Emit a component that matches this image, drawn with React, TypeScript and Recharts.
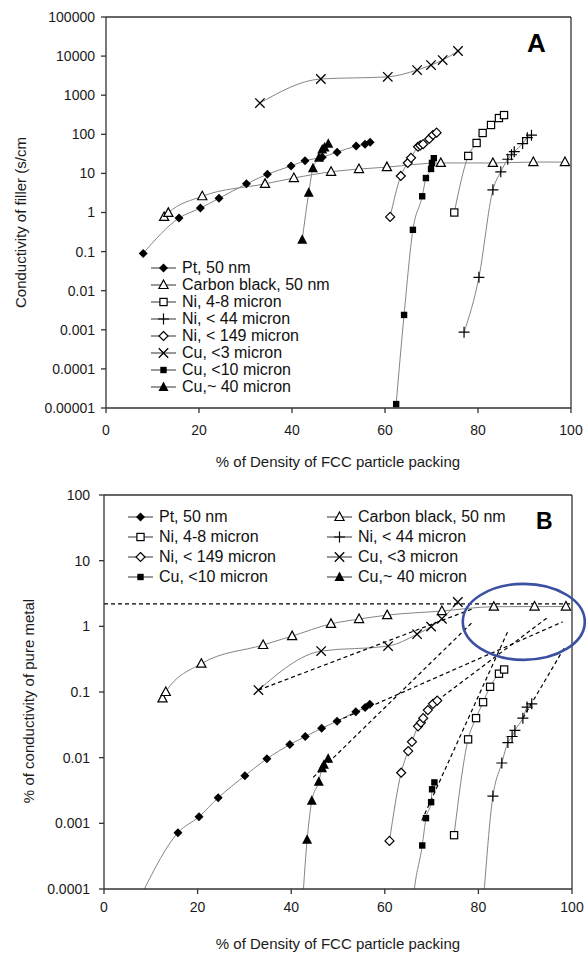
import React from "react";
import {
  ComposedChart,
  Line,
  XAxis,
  YAxis,
  ReferenceLine,
  ReferenceDot,
} from "recharts";

const FONT = "Arial, 'Liberation Sans', Helvetica, sans-serif";

// ---- data: [packing %, value] pairs ----
const X_TICKS = [0, 20, 40, 60, 80, 100];
const A_Y_TICKS = [0.00001, 0.0001, 0.001, 0.01, 0.1, 1, 10, 100, 1000, 10000, 100000];
const B_Y_TICKS = [0.0001, 0.001, 0.01, 0.1, 1, 10, 100];

const SERIES_NAMES = [
  "Pt, 50 nm",
  "Carbon black, 50 nm",
  "Ni, 4-8 micron",
  "Ni, < 44 micron",
  "Ni, < 149 micron",
  "Cu, <3 micron",
  "Cu, <10 micron",
  "Cu,~ 40 micron",
];
const SERIES_MARKERS = [
  "diamondFilled",
  "triangleOpen",
  "squareOpen",
  "plus",
  "diamondOpen",
  "cross",
  "squareFilled",
  "triangleFilled",
];

// panel A: conductivity of filler (S/cm)
const ptA = [[8, 0.09], [15.7, 0.72], [20.3, 1.3], [24.3, 2.3], [30.2, 5.4], [34.7, 9.5], [39.8, 15.5], [42.8, 21], [46.5, 26], [49.7, 35], [53.8, 50], [55.7, 56], [56.8, 63]];
const carbonA = [[12.5, 0.77], [13.4, 0.98], [20.7, 2.6], [34.2, 5.4], [40.4, 7.6], [48.4, 11], [54.4, 12.9], [60.4, 14.5], [72, 18.5], [83.2, 18.5], [91.9, 19.5], [98.7, 19.5]];
const ni48A = [[74.9, 1.0], [77.9, 28], [79.7, 60], [81, 108], [82.8, 173], [84.5, 260], [85.6, 310]];
const ni44A = [[77, 0.00087], [80.2, 0.022], [83.2, 3.8], [84.9, 11], [86.4, 23], [87.2, 30], [87.8, 36], [89.6, 58], [90.6, 82], [91.5, 95]];
const ni149A = [[61.1, 0.77], [63.4, 8.6], [64.9, 18.5], [65.6, 25], [67.1, 48], [67.6, 52], [68.2, 56], [69.5, 76], [70.3, 96], [71.1, 110]];
const cu3A = [[33.1, 630], [46.2, 2600], [60.6, 2950], [66.9, 4400], [69.9, 5900], [72.4, 7900], [75.7, 13500]];
const cu10A = [[62.4, 0.0000126], [64.1, 0.0024], [66, 0.36], [68, 2.6], [68.8, 7.6], [69.9, 13], [70.1, 18.5], [70.5, 24.5]];
const cu40A = [[42.2, 0.2], [43.6, 3.2], [44.5, 13.5], [45.8, 25], [46.5, 41], [47, 46], [47.8, 57]];

// panel B: % of conductivity of pure metal
const ptB = [[8.3, 0.00009], [15.8, 0.00072], [20.3, 0.00126], [24.4, 0.00245], [30.1, 0.0053], [34.8, 0.0096], [39.7, 0.0158], [43, 0.021], [46.5, 0.028], [49.8, 0.036], [53.8, 0.05], [55.8, 0.058], [56.8, 0.065]];
const carbonB = [[12.5, 0.08], [13.2, 0.1], [20.8, 0.27], [34, 0.52], [40.2, 0.71], [48.5, 1.09], [54.5, 1.29], [60.5, 1.48], [72.2, 1.71], [83.3, 1.99], [92, 2.0], [98.7, 2.0]];
const ni48B = [[74.8, 0.00066], [77.8, 0.019], [79.5, 0.04], [81, 0.07], [82.5, 0.12], [84.4, 0.19], [85.5, 0.22]];
const ni44B = [[77, 0.0000006], [80.2, 0.000015], [83.1, 0.0026], [85, 0.0083], [86.3, 0.017], [87.2, 0.021], [87.8, 0.026], [89.5, 0.04], [90.4, 0.059], [91.4, 0.066]];
const ni149B = [[61, 0.00054], [63.5, 0.0059], [65, 0.0126], [65.8, 0.0174], [67.1, 0.03], [67.7, 0.034], [68.2, 0.04], [69.2, 0.053], [70.3, 0.066], [71.2, 0.074]];
const cu3B = [[33, 0.107], [46.4, 0.42], [60.7, 0.5], [66.9, 0.76], [69.9, 0.99], [72.2, 1.3], [75.6, 2.35]];
const cu10B = [[62.4, 0.000000002], [64.1, 0.0000004], [66, 0.00006], [68, 0.00046], [68.8, 0.0012], [69.9, 0.0021], [70.1, 0.0033], [70.6, 0.0042]];
const cu40B = [[42.2, 0.000034], [43.4, 0.00056], [44.4, 0.0022], [45.9, 0.0043], [46.6, 0.0069], [47, 0.0078], [47.9, 0.0096]];

// panel B: dashed extrapolation lines
const dashCu3 = [[33, 0.107], [78.6, 1.83]];
const dashPt = [[49.8, 0.036], [98, 1.17]];
const dashCu40 = [[44.7, 0.005], [78.8, 1.17]];
const dashCu10 = [[67.9, 0.0011], [86.3, 0.84]];
const dashNi149 = [[71.2, 0.074], [94.7, 1.35]];
const dashNi44 = [[89.5, 0.04], [98.5, 0.49]];
const DASH_LINES = [dashCu3, dashPt, dashCu40, dashCu10, dashNi149, dashNi44];
const PURE_METAL_LEVEL = 2.2;
const CIRCLE_CENTER = [89.7, 1.17];

const SERIES_A = [ptA, carbonA, ni48A, ni44A, ni149A, cu3A, cu10A, cu40A];
const SERIES_B = [ptB, carbonB, ni48B, ni44B, ni149B, cu3B, cu10B, cu40B];

const toPts = (arr: number[][]) => arr.map(([x, y]) => ({ x, y }));

function Marker({ kind, cx, cy }: { kind: string; cx: number; cy: number }) {
  const sw = 1.2;
  switch (kind) {
    case "diamondFilled":
      return <polygon points={`${cx},${cy - 4.5} ${cx + 4.5},${cy} ${cx},${cy + 4.5} ${cx - 4.5},${cy}`} fill="#000" />;
    case "diamondOpen":
      return <polygon points={`${cx},${cy - 4.5} ${cx + 4.5},${cy} ${cx},${cy + 4.5} ${cx - 4.5},${cy}`} fill="#fff" stroke="#000" strokeWidth={sw} />;
    case "triangleOpen":
      return <polygon points={`${cx},${cy - 5} ${cx + 4.6},${cy + 3.5} ${cx - 4.6},${cy + 3.5}`} fill="#fff" stroke="#000" strokeWidth={sw} />;
    case "triangleFilled":
      return <polygon points={`${cx},${cy - 5.5} ${cx + 5},${cy + 4} ${cx - 5},${cy + 4}`} fill="#000" />;
    case "squareOpen":
      return <rect x={cx - 3.6} y={cy - 3.6} width={7.2} height={7.2} fill="#fff" stroke="#000" strokeWidth={sw} />;
    case "squareFilled":
      return <rect x={cx - 3.2} y={cy - 3.2} width={6.4} height={6.4} fill="#000" />;
    case "plus":
      return <path d={`M${cx - 5.5},${cy}H${cx + 5.5}M${cx},${cy - 5.5}V${cy + 5.5}`} stroke="#000" strokeWidth={sw} />;
    case "cross":
      return <path d={`M${cx - 4.7},${cy - 4.7}L${cx + 4.7},${cy + 4.7}M${cx - 4.7},${cy + 4.7}L${cx + 4.7},${cy - 4.7}`} stroke="#000" strokeWidth={1.3} />;
    default:
      return null;
  }
}

const makeDot = (kind: string, minY: number) => (p: any) => {
  const { cx, cy, index, payload } = p;
  if (cx == null || cy == null || !payload || payload.y < minY) return <g key={`d${index}`} />;
  return (
    <g key={`d${index}`}>
      <Marker kind={kind} cx={cx} cy={cy} />
    </g>
  );
};

const tickStyle = { fontSize: 14, fill: "#1a1a1a", fontFamily: FONT };
const fmt = (v: number) => String(v);

function LegendRow({ name, kind }: { name: string; kind: string }) {
  return (
    <div style={{ display: "flex", alignItems: "center", height: "100%" }}>
      <svg width={26} height={14} style={{ flex: "none" }}>
        <line x1={0} x2={25} y1={7} y2={7} stroke="#333" strokeWidth={1} />
        <Marker kind={kind} cx={12.5} cy={7} />
      </svg>
      <span style={{ marginLeft: 5, whiteSpace: "nowrap" }}>{name}</span>
    </div>
  );
}

function ChartA() {
  return (
    <div style={{ position: "absolute", left: 0, top: 0, width: 586, height: 475 }}>
      <ComposedChart width={586} height={475} margin={{ top: 17, right: 15, bottom: 0, left: 0 }}>
        <XAxis
          type="number"
          dataKey="x"
          domain={[0, 100]}
          ticks={X_TICKS}
          interval={0}
          height={67}
          tickSize={5}
          tickMargin={12}
          stroke="#333"
          strokeWidth={1.3}
          tick={tickStyle}
          label={{
            content: () => (
              <text x={338} y={467} textAnchor="middle" fontSize={15} fontFamily={FONT} fill="#1a1a1a">
                % of Density of FCC particle packing
              </text>
            ),
          }}
        />
        <YAxis
          type="number"
          dataKey="y"
          scale="log"
          domain={[0.00001, 100000]}
          allowDataOverflow
          ticks={A_Y_TICKS}
          interval={0}
          width={106}
          tickSize={5}
          tickMargin={6}
          tickFormatter={fmt}
          stroke="#333"
          strokeWidth={1.3}
          tick={tickStyle}
          label={{
            content: () => (
              <text
                x={20}
                y={308}
                transform="rotate(-90 20 308)"
                textAnchor="start"
                dominantBaseline="central"
                fontSize={15}
                fontFamily={FONT}
                fill="#1a1a1a"
              >
                Conductivity of filler (s/cm
              </text>
            ),
          }}
        />
        <ReferenceLine y={100000} stroke="#333" strokeWidth={1.3} />
        <ReferenceLine x={100} stroke="#333" strokeWidth={1.3} />
        {SERIES_A.map((s, i) => (
          <Line
            key={SERIES_NAMES[i]}
            data={toPts(s)}
            dataKey="y"
            name={SERIES_NAMES[i]}
            type="monotone"
            stroke="#858585"
            strokeWidth={1}
            dot={makeDot(SERIES_MARKERS[i], 0.00001)}
            activeDot={false}
            isAnimationActive={false}
          />
        ))}
      </ComposedChart>
      <div style={{ position: "absolute", left: 151, top: 259, fontFamily: FONT, fontSize: 16, color: "#111" }}>
        {SERIES_NAMES.map((n, i) => (
          <div key={n} style={{ height: 17 }}>
            <LegendRow name={n} kind={SERIES_MARKERS[i]} />
          </div>
        ))}
      </div>
      <div style={{ position: "absolute", left: 527, top: 28, fontFamily: FONT, fontSize: 26, fontWeight: 700, lineHeight: "30px" }}>
        A
      </div>
    </div>
  );
}

function ChartB() {
  return (
    <div style={{ position: "absolute", left: 0, top: 475, width: 586, height: 478 }}>
      <ComposedChart width={586} height={478} margin={{ top: 20, right: 14, bottom: 0, left: 0 }}>
        <XAxis
          type="number"
          dataKey="x"
          domain={[0, 100]}
          ticks={X_TICKS}
          interval={0}
          height={64}
          tickSize={5}
          tickMargin={8}
          stroke="#333"
          strokeWidth={1.3}
          tick={tickStyle}
          label={{
            content: () => (
              <text x={338} y={474} textAnchor="middle" fontSize={15} fontFamily={FONT} fill="#1a1a1a">
                % of Density of FCC particle packing
              </text>
            ),
          }}
        />
        <YAxis
          type="number"
          dataKey="y"
          scale="log"
          domain={[0.0001, 100]}
          allowDataOverflow
          ticks={B_Y_TICKS}
          interval={0}
          width={104}
          tickSize={5}
          tickMargin={9}
          tickFormatter={fmt}
          stroke="#333"
          strokeWidth={1.3}
          tick={tickStyle}
          label={{
            content: () => (
              <text
                x={28}
                y={226}
                transform="rotate(-90 28 226)"
                textAnchor="middle"
                dominantBaseline="central"
                fontSize={15}
                fontFamily={FONT}
                fill="#1a1a1a"
              >
                % of conductivity of pure metal
              </text>
            ),
          }}
        />
        <ReferenceLine y={100} stroke="#333" strokeWidth={1.3} />
        <ReferenceLine x={100} stroke="#333" strokeWidth={1.3} />
        <ReferenceLine y={PURE_METAL_LEVEL} stroke="#000" strokeWidth={1.2} strokeDasharray="4 3" />
        {SERIES_B.map((s, i) => (
          <Line
            key={SERIES_NAMES[i]}
            data={toPts(s)}
            dataKey="y"
            name={SERIES_NAMES[i]}
            type="monotone"
            stroke="#858585"
            strokeWidth={1}
            dot={makeDot(SERIES_MARKERS[i], 0.0001)}
            activeDot={false}
            isAnimationActive={false}
          />
        ))}
        {DASH_LINES.map((d, i) => (
          <Line
            key={`dash${i}`}
            data={toPts(d)}
            dataKey="y"
            type="linear"
            stroke="#000"
            strokeWidth={1.2}
            strokeDasharray="4 3"
            dot={false}
            activeDot={false}
            legendType="none"
            isAnimationActive={false}
          />
        ))}
        <ReferenceDot
          x={CIRCLE_CENTER[0]}
          y={CIRCLE_CENTER[1]}
          ifOverflow="visible"
          shape={(p: any) => (
            <ellipse cx={p.cx} cy={p.cy} rx={61} ry={38} fill="none" stroke="#3b4fa3" strokeWidth={2.6} />
          )}
        />
      </ComposedChart>
      <div style={{ position: "absolute", left: 128, top: 32, fontFamily: FONT, fontSize: 16, color: "#111" }}>
        {SERIES_NAMES.filter((_, i) => i % 2 === 0).map((n, j) => (
          <div key={n} style={{ height: 20 }}>
            <LegendRow name={n} kind={SERIES_MARKERS[j * 2]} />
          </div>
        ))}
      </div>
      <div style={{ position: "absolute", left: 327, top: 32, fontFamily: FONT, fontSize: 16, color: "#111" }}>
        {SERIES_NAMES.filter((_, i) => i % 2 === 1).map((n, j) => (
          <div key={n} style={{ height: 20 }}>
            <LegendRow name={n} kind={SERIES_MARKERS[j * 2 + 1]} />
          </div>
        ))}
      </div>
      <div style={{ position: "absolute", left: 536, top: 33, fontFamily: FONT, fontSize: 23, fontWeight: 700, lineHeight: "26px" }}>
        B
      </div>
    </div>
  );
}

export default function App() {
  return (
    <div style={{ position: "absolute", left: 0, top: 0, width: 586, height: 953, background: "#fff", overflow: "hidden" }}>
      <ChartA />
      <ChartB />
    </div>
  );
}
